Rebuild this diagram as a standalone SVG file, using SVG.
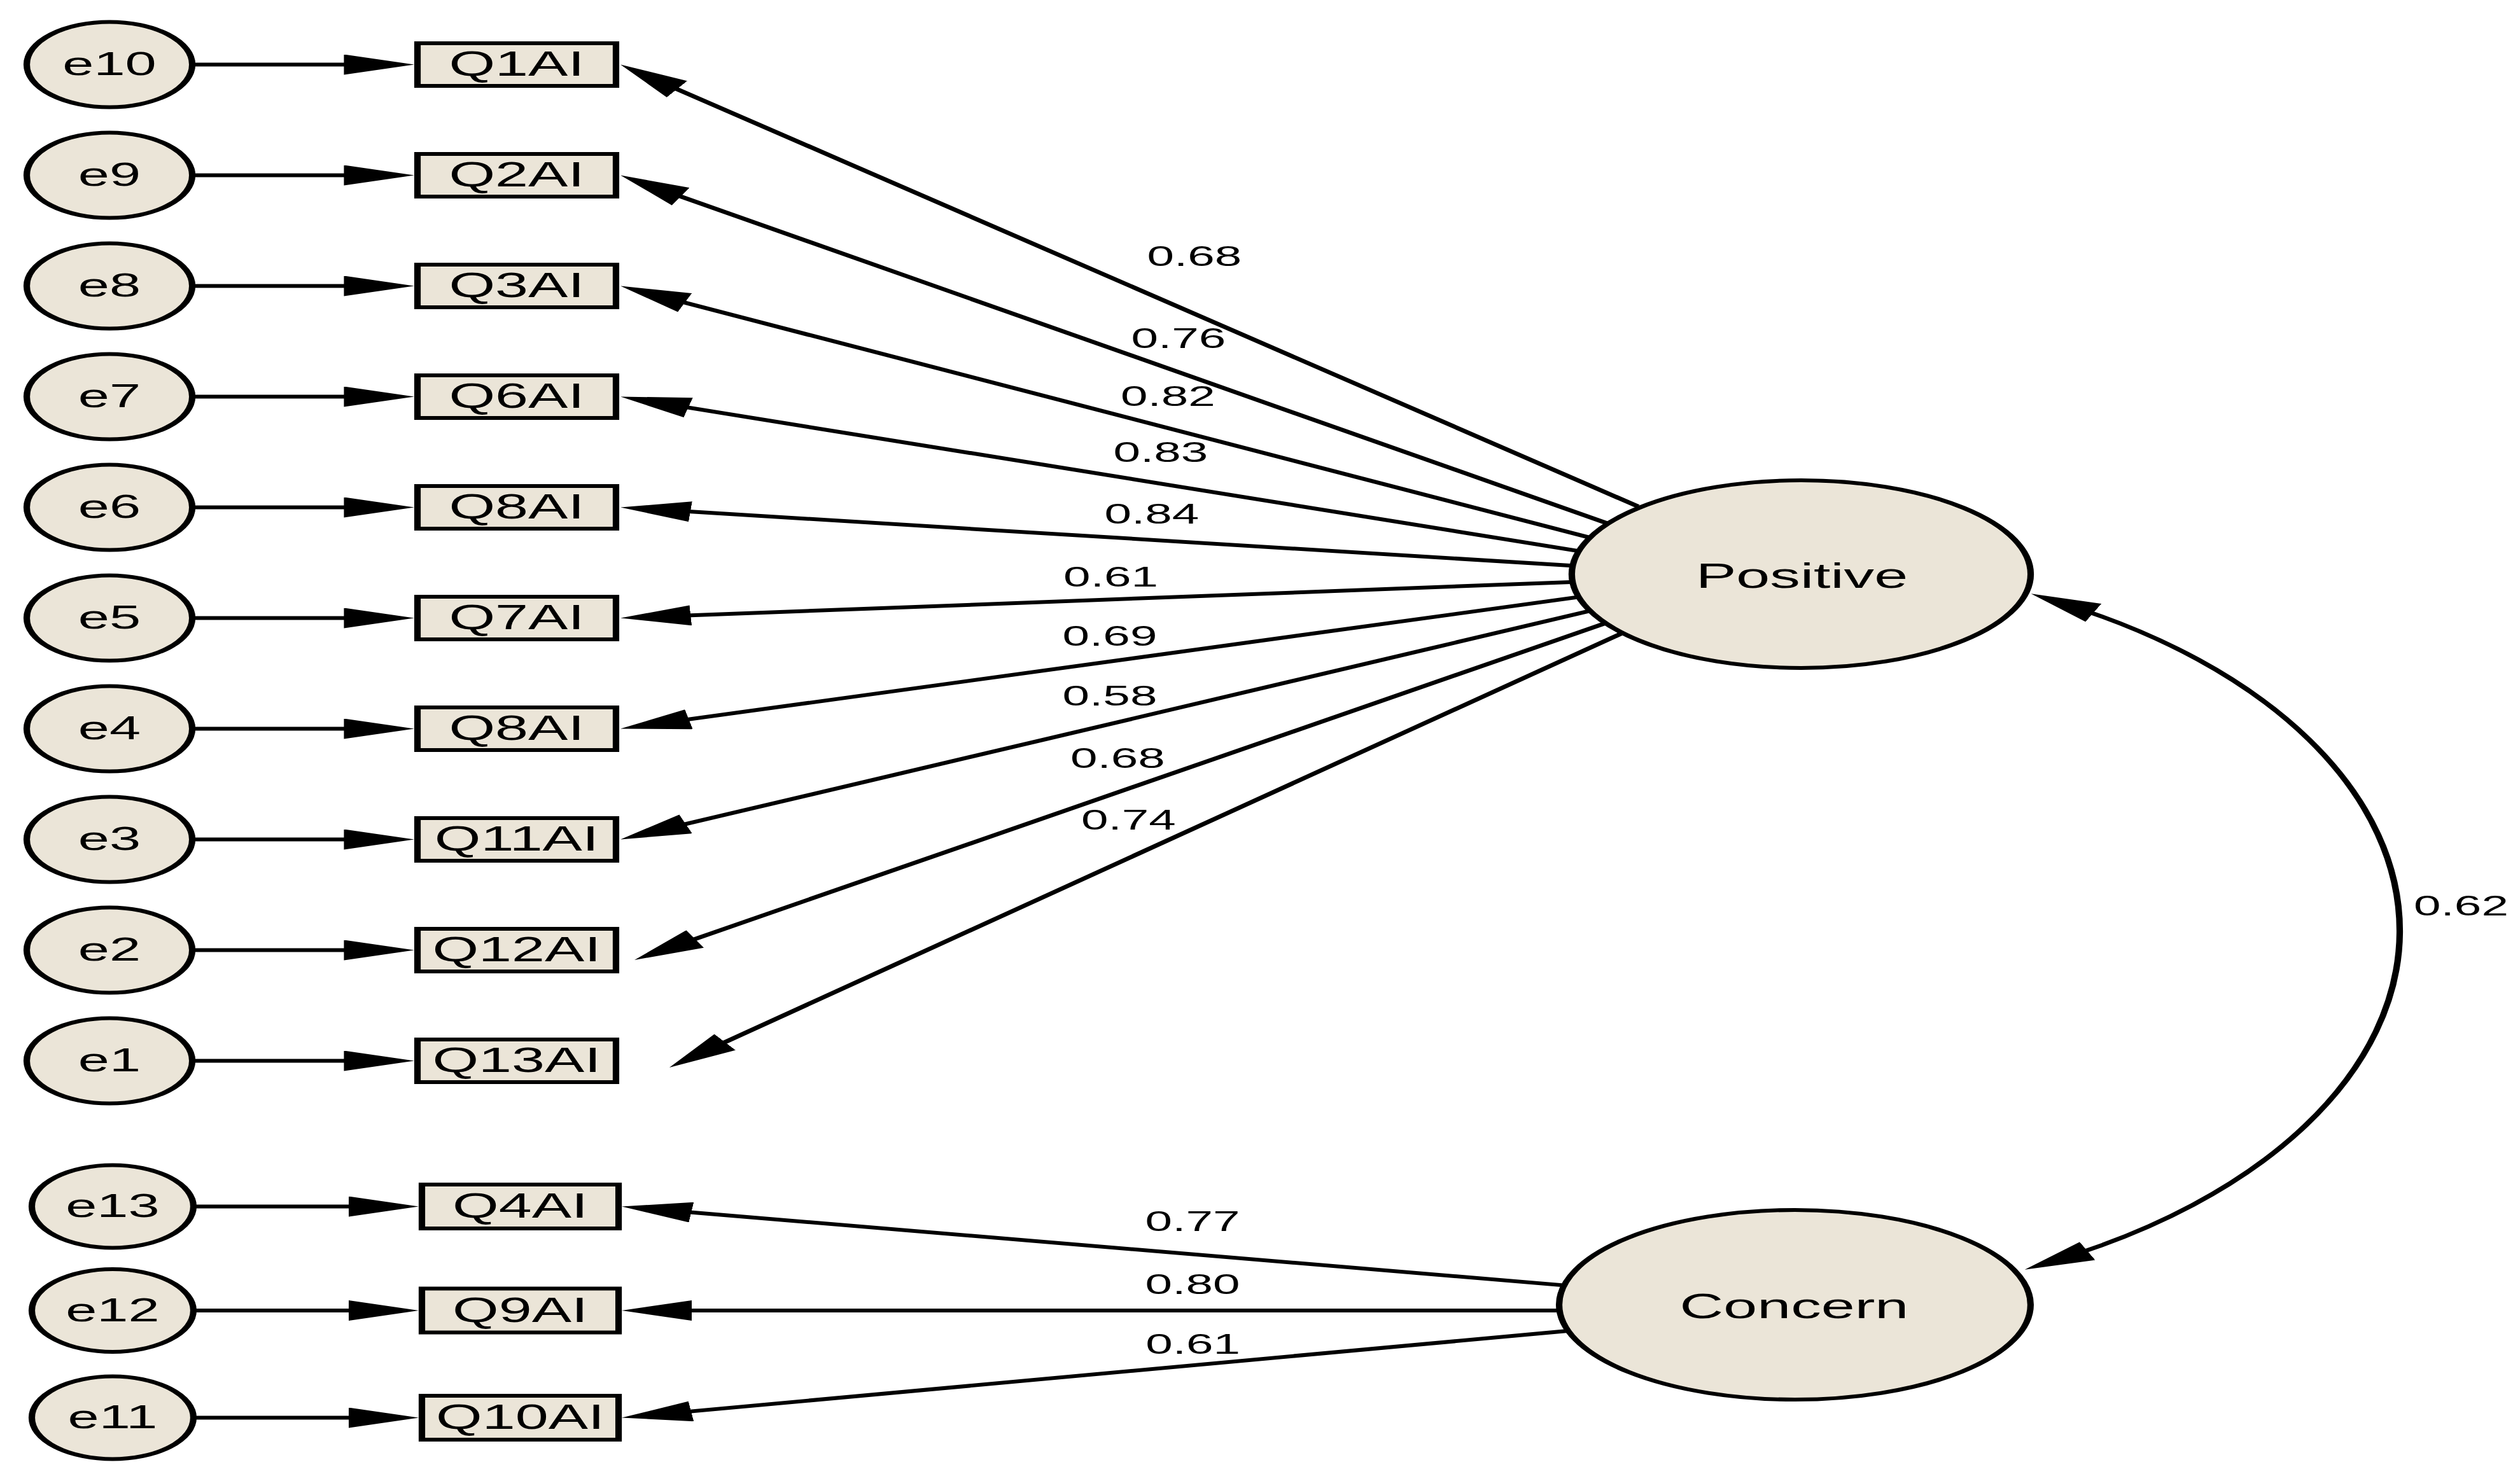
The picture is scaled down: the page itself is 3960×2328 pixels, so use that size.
<svg xmlns="http://www.w3.org/2000/svg" width="3960" height="2328" viewBox="0 0 3960 2328">
<style>
.n{fill:#ebe5d8;stroke:#000;stroke-width:6}
.t{font-family:"Liberation Sans",Arial,sans-serif;fill:#000;text-anchor:middle}
.e{font-size:52px}
.q{font-size:55px}
.lt{font-size:56px}
.w{font-size:45px}
.c{fill:none;stroke:#000;stroke-width:6;marker-end:url(#ah)}
</style>
<defs>
<marker id="ah" viewBox="0 0 65 32" refX="35" refY="16" markerWidth="65" markerHeight="32" markerUnits="userSpaceOnUse" orient="auto-start-reverse">
<path d="M0,0 L65,16 L0,32 Z" fill="#000"/>
</marker>
</defs>
<rect x="0" y="0" width="3960" height="2328" fill="#ffffff"/>
<g transform="scale(1.7 1)">
<g id="connectors">
<path class="c" d="M176.5,101.5 H352.9"/>
<path class="c" d="M176.5,275.5 H352.9"/>
<path class="c" d="M176.5,449.5 H352.9"/>
<path class="c" d="M176.5,623.5 H352.9"/>
<path class="c" d="M176.5,797.5 H352.9"/>
<path class="c" d="M176.5,971.5 H352.9"/>
<path class="c" d="M176.5,1145.5 H352.9"/>
<path class="c" d="M176.5,1319.5 H352.9"/>
<path class="c" d="M176.5,1493.5 H352.9"/>
<path class="c" d="M176.5,1667.5 H352.9"/>
<path class="c" d="M179.4,1896.5 H357.1"/>
<path class="c" d="M179.4,2060 H357.1"/>
<path class="c" d="M179.4,2228.5 H357.1"/>
<path class="c" d="M1513.9,795.9 L597.7,119.3"/>
<path class="c" d="M1489.8,825.1 L599.3,290.9"/>
<path class="c" d="M1473.9,847.0 L601.0,461.6"/>
<path class="c" d="M1464.4,867.6 L602.5,631.4"/>
<path class="c" d="M1460.9,890.0 L603.4,800.6"/>
<path class="c" d="M1460.0,914.4 L603.5,969.6"/>
<path class="c" d="M1462.7,937.7 L602.7,1138.7"/>
<path class="c" d="M1472.0,959.3 L601.4,1308.3"/>
<path class="c" d="M1486.9,977.9 L612.3,1493.8"/>
<path class="c" d="M1503.8,991.9 L642.5,1659.6"/>
<path class="c" d="M1452.3,2021.4 L604.4,1900.7"/>
<path class="c" d="M1448.8,2060 L604.7,2060"/>
<path class="c" d="M1452.3,2091.5 L604.3,2223.9"/>
<path class="c" style="marker-start:url(#ah)" d="M1904.1,947.1 A581,581 0 0 1 1898.35,1982.2"/>
</g>
<g id="labels">
<text class="t w" x="1104.1" y="418">0.68</text>
<text class="t w" x="1089.4" y="547">0.76</text>
<text class="t w" x="1079.7" y="638">0.82</text>
<text class="t w" x="1072.9" y="726">0.83</text>
<text class="t w" x="1064.7" y="823">0.84</text>
<text class="t w" x="1026.8" y="922">0.61</text>
<text class="t w" x="1025.9" y="1015">0.69</text>
<text class="t w" x="1025.9" y="1109">0.58</text>
<text class="t w" x="1033.2" y="1207">0.68</text>
<text class="t w" x="1043.2" y="1304">0.74</text>
<text class="t w" x="1102.4" y="1935">0.77</text>
<text class="t w" x="1102.4" y="2034">0.80</text>
<text class="t w" x="1102.7" y="2128">0.61</text>
<text class="t w" x="2275" y="1439">0.62</text>
</g>
<g id="e10"><ellipse class="n" cx="101.2" cy="101.5" rx="76.5" ry="67"/><text class="t e" x="101.2" y="118.5">e10</text></g>
<g id="e9"><ellipse class="n" cx="101.2" cy="275.5" rx="76.5" ry="67"/><text class="t e" x="101.2" y="292.5">e9</text></g>
<g id="e8"><ellipse class="n" cx="101.2" cy="449.5" rx="76.5" ry="67"/><text class="t e" x="101.2" y="466.5">e8</text></g>
<g id="e7"><ellipse class="n" cx="101.2" cy="623.5" rx="76.5" ry="67"/><text class="t e" x="101.2" y="640.5">e7</text></g>
<g id="e6"><ellipse class="n" cx="101.2" cy="797.5" rx="76.5" ry="67"/><text class="t e" x="101.2" y="814.5">e6</text></g>
<g id="e5"><ellipse class="n" cx="101.2" cy="971.5" rx="76.5" ry="67"/><text class="t e" x="101.2" y="988.5">e5</text></g>
<g id="e4"><ellipse class="n" cx="101.2" cy="1145.5" rx="76.5" ry="67"/><text class="t e" x="101.2" y="1162.5">e4</text></g>
<g id="e3"><ellipse class="n" cx="101.2" cy="1319.5" rx="76.5" ry="67"/><text class="t e" x="101.2" y="1336.5">e3</text></g>
<g id="e2"><ellipse class="n" cx="101.2" cy="1493.5" rx="76.5" ry="67"/><text class="t e" x="101.2" y="1510.5">e2</text></g>
<g id="e1"><ellipse class="n" cx="101.2" cy="1667.5" rx="76.5" ry="67"/><text class="t e" x="101.2" y="1684.5">e1</text></g>
<g id="e13"><ellipse class="n" cx="104.1" cy="1896.5" rx="74.7" ry="65"/><text class="t e" x="104.1" y="1913.5">e13</text></g>
<g id="e12"><ellipse class="n" cx="104.1" cy="2060" rx="74.7" ry="65"/><text class="t e" x="104.1" y="2077">e12</text></g>
<g id="e11"><ellipse class="n" cx="104.1" cy="2228.5" rx="74.7" ry="65"/><text class="t e" x="104.1" y="2245.5">e11</text></g>
<g id="Q1AI"><rect class="n" x="385.9" y="68" width="183.5" height="67"/><text class="t q" x="477.6" y="119.5">Q1AI</text></g>
<g id="Q2AI"><rect class="n" x="385.9" y="242" width="183.5" height="67"/><text class="t q" x="477.6" y="293.5">Q2AI</text></g>
<g id="Q3AI"><rect class="n" x="385.9" y="416" width="183.5" height="67"/><text class="t q" x="477.6" y="467.5">Q3AI</text></g>
<g id="Q6AI"><rect class="n" x="385.9" y="590" width="183.5" height="67"/><text class="t q" x="477.6" y="641.5">Q6AI</text></g>
<g id="Q8AI-a"><rect class="n" x="385.9" y="764" width="183.5" height="67"/><text class="t q" x="477.6" y="815.5">Q8AI</text></g>
<g id="Q7AI"><rect class="n" x="385.9" y="938" width="183.5" height="67"/><text class="t q" x="477.6" y="989.5">Q7AI</text></g>
<g id="Q8AI-b"><rect class="n" x="385.9" y="1112" width="183.5" height="67"/><text class="t q" x="477.6" y="1163.5">Q8AI</text></g>
<g id="Q11AI"><rect class="n" x="385.9" y="1286" width="183.5" height="67"/><text class="t q" x="477.6" y="1337.5">Q11AI</text></g>
<g id="Q12AI"><rect class="n" x="385.9" y="1460" width="183.5" height="67"/><text class="t q" x="477.6" y="1511.5">Q12AI</text></g>
<g id="Q13AI"><rect class="n" x="385.9" y="1634" width="183.5" height="67"/><text class="t q" x="477.6" y="1685.5">Q13AI</text></g>
<g id="Q4AI"><rect class="n" x="390" y="1862" width="181.8" height="69"/><text class="t q" x="480.9" y="1914.5">Q4AI</text></g>
<g id="Q9AI"><rect class="n" x="390" y="2025.5" width="181.8" height="69"/><text class="t q" x="480.9" y="2078">Q9AI</text></g>
<g id="Q10AI"><rect class="n" x="390" y="2194" width="181.8" height="69"/><text class="t q" x="480.9" y="2246.5">Q10AI</text></g>
<g id="Positive"><ellipse class="n" cx="1665" cy="902.5" rx="212.1" ry="147.5"/><text class="t lt" x="1665.6" y="924">Positive</text></g>
<g id="Concern"><ellipse class="n" cx="1659.1" cy="2051" rx="217.9" ry="149"/><text class="t lt" x="1658.5" y="2072">Concern</text></g>
</g>
</svg>
